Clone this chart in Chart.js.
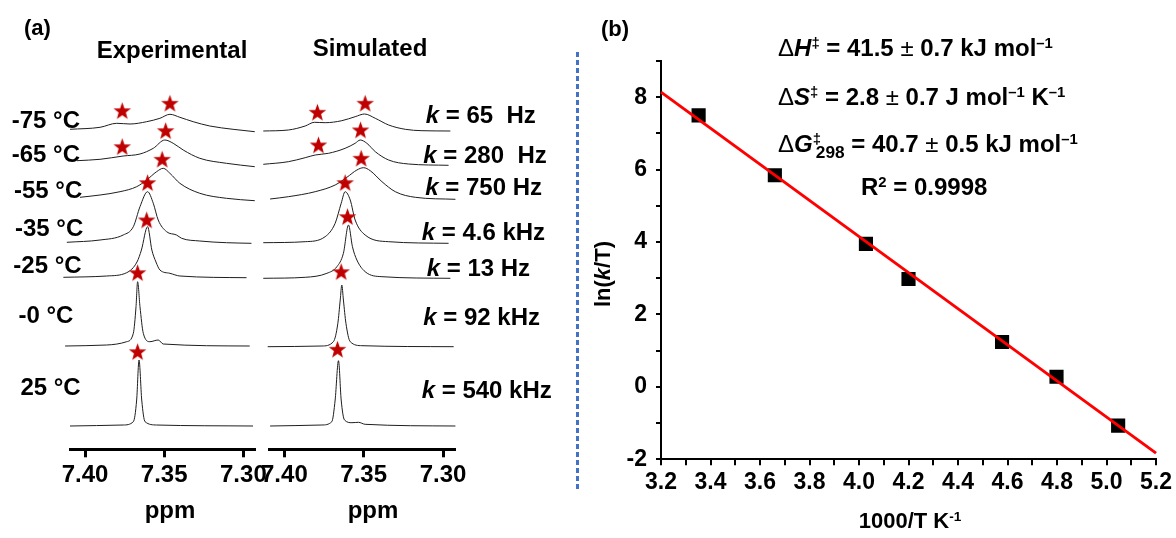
<!DOCTYPE html>
<html>
<head>
<meta charset="utf-8">
<script src="https://cdn.jsdelivr.net/npm/chart.js@4.4.0/dist/chart.umd.min.js"></script>
<style>
  body { margin: 0; background: #fff; width: 1176px; height: 538px; overflow: hidden; position: relative;
         font-family: Arial, "Liberation Sans", sans-serif; font-weight: bold; color: #000; }
  canvas { position: absolute; }
  .t { position: absolute; white-space: pre; font-size: 24px; line-height: 1; transform: translateY(-50%); }
  .c { transform: translate(-50%, -50%); }
  .s { font-size: 22px; }
  .n { font-weight: normal; }
  .sup { font-size: 0.62em; vertical-align: 0.55em; line-height: 0; }
  .sub { font-size: 0.72em; vertical-align: -0.35em; line-height: 0; }
  #sep { position: absolute; left: 576px; top: 52px; width: 2.5px; height: 438px;
         background: repeating-linear-gradient(to bottom, #4472c4 0 5px, transparent 5px 8px); }
</style>
</head>
<body>
<canvas id="expChart" style="left:0;top:0" width="290" height="538"></canvas>
<canvas id="simChart" style="left:240px;top:0" width="250" height="538"></canvas>
<canvas id="eyring" style="left:600px;top:0" width="576" height="538"></canvas>
<div id="sep"></div>
<div id="labels"></div>

<script>
// ---- panel (a): spectra, ppm positions and intensity above each trace's baseline ----
const ppmTicks = [7.40, 7.35, 7.30];
const temps = ['-75 °C', '-65 °C', '-55 °C', '-35 °C', '-25 °C', '-0 °C', '25 °C'];
const rates = ['65  Hz', '280  Hz', '750 Hz', '4.6 kHz', '13 Hz', '92 kHz', '540 kHz'];

const expPpm1 = [7.4095, 7.3905, 7.3800, 7.3716, 7.3611, 7.3527, 7.3464, 7.3401, 7.3317, 7.3212, 7.3065, 7.2928];
const expInt1 = [2.4, 4.4, 8.4, 7.7, 10.0, 13.4, 17.4, 14.4, 10.0, 5.7, 2.4, 0];
const expPpm2 = [7.4052, 7.3905, 7.3759, 7.3653, 7.3569, 7.3496, 7.3443, 7.3380, 7.3275, 7.3107, 7.2928];
const expInt2 = [6.0, 7.4, 10.7, 12.7, 18.4, 26.7, 23.4, 16.7, 8.4, 3.4, 0];
const expPpm3 = [7.4032, 7.3905, 7.3779, 7.3674, 7.3611, 7.3548, 7.3506, 7.3464, 7.3401, 7.3275, 7.3107, 7.2928];
const expInt3 = [3.4, 5.7, 9.0, 14.0, 20.7, 29.0, 32.4, 27.4, 17.4, 7.4, 2.4, 0];
const expPpm4 = [7.4115, 7.3905, 7.3759, 7.3695, 7.3653, 7.3605, 7.3569, 7.3538, 7.3485, 7.3422, 7.3390, 7.3275, 7.3107, 7.2949];
const expInt4 = [1.0, 3.3, 8.3, 16.6, 36.6, 51.6, 40.0, 23.3, 11.6, 8.3, 5.0, 2.3, 0.6, 0];
const expPpm5 = [7.4137, 7.3863, 7.3737, 7.3672, 7.3644, 7.3605, 7.3578, 7.3552, 7.3527, 7.3464, 7.3401, 7.2980];
const expInt5 = [0.4, 1.7, 5.0, 15.7, 27.7, 51.0, 27.7, 15.7, 7.7, 4.4, 1.7, 0];
const expPpm6 = [7.4126, 7.3863, 7.3737, 7.3695, 7.3678, 7.3668, 7.3653, 7.3632, 7.3590, 7.3538, 7.3506, 7.2960];
const expInt6 = [0, 1.0, 4.3, 12.7, 39.3, 64.3, 39.3, 12.7, 4.3, 6.0, 2.0, 0];
const expPpm7 = [7.4095, 7.3759, 7.3695, 7.3674, 7.3659, 7.3642, 7.3621, 7.3548, 7.2939];
const expInt7 = [0, 1.0, 4.3, 26, 66, 26, 4.3, 1.0, 0];

const simPpm1 = [7.4133, 7.3975, 7.3869, 7.3811, 7.3743, 7.3638, 7.3554, 7.3495, 7.3427, 7.3343, 7.3238, 7.3133, 7.2954];
const simInt1 = [0, 1, 5, 8.7, 8.3, 10.3, 14.3, 17, 12.7, 6, 1.7, 0.3, 0];
const simPpm2 = [7.4133, 7.3975, 7.3869, 7.3806, 7.3722, 7.3617, 7.3554, 7.3522, 7.3480, 7.3427, 7.3343, 7.3217, 7.2965];
const simInt2 = [1.0, 3.6, 7.6, 10.3, 12.0, 17.0, 22.0, 25.3, 22.0, 13.6, 5.3, 1.3, 0];
const simPpm3 = [7.4090, 7.3975, 7.3806, 7.3680, 7.3606, 7.3543, 7.3501, 7.3459, 7.3385, 7.3301, 7.3175, 7.2922];
const simInt3 = [0.3, 2.6, 7.6, 14.3, 22.0, 29.3, 31.6, 28.6, 17.6, 7.6, 2.0, 0];
const simPpm4 = [7.4133, 7.3869, 7.3743, 7.3680, 7.3642, 7.3617, 7.3585, 7.3554, 7.3491, 7.3343, 7.2965];
const simInt4 = [0.6, 1.6, 6.6, 20.0, 40.0, 51.6, 43.3, 23.3, 8.3, 1.6, 0];
const simPpm5 = [7.4133, 7.3869, 7.3732, 7.3669, 7.3628, 7.3596, 7.3571, 7.3543, 7.3491, 7.3385, 7.2954];
const simInt5 = [0, 1.0, 5.0, 11.6, 25.0, 53.3, 31.6, 18.3, 6.6, 1.6, 0];
const simPpm6 = [7.4105, 7.3764, 7.3691, 7.3663, 7.3648, 7.3638, 7.3628, 7.3612, 7.3585, 7.3511, 7.2933];
const simInt6 = [0, 0.7, 5.0, 23.4, 46.7, 61.7, 46.7, 23.4, 5.0, 1.0, 0];
const simPpm7 = [7.4090, 7.3764, 7.3701, 7.3680, 7.3659, 7.3642, 7.3621, 7.3574, 7.3533, 7.3491, 7.2922];
const simInt7 = [0, 1.0, 4.3, 26, 65.3, 26, 6, 3.3, 3.7, 1.7, 0];

// peak markers (ppm, height above trace baseline, which trace)
const expStarPpm = [7.3765, 7.3464, 7.3765, 7.3491, 7.3513, 7.3605, 7.3611, 7.3668, 7.3668];
const expStarH   = [21.0, 28.4, 20.0, 36.0, 41.4, 60.6, 57.7, 73.3, 74.3];
const expStarOf  = [0, 0, 1, 1, 2, 3, 4, 5, 6];
const simStarPpm = [7.3792, 7.3491, 7.3785, 7.3520, 7.3516, 7.3617, 7.3602, 7.3642, 7.3665];
const simStarH   = [18.7, 27.7, 20.3, 35.3, 41.0, 60.6, 61.6, 75.0, 76.7];
const simStarOf  = [0, 0, 1, 1, 2, 3, 4, 5, 6];

// ---- panel (b): Eyring plot ----
const invT = [3.352, 3.66, 4.028, 4.20, 4.578, 4.798, 5.047];
const lnKT = [7.50, 5.845, 3.95, 2.98, 1.24, 0.28, -1.07];
const fitX = [3.2, 5.2];
const fitY = [8.14, -1.83];
const xTicksB = [3.2, 3.3, 3.4, 3.5, 3.6, 3.7, 3.8, 3.9, 4.0, 4.1, 4.2, 4.3, 4.4, 4.5, 4.6, 4.7, 4.8, 4.9, 5.0, 5.1, 5.2];
const yTicksB = [-2, -1, 0, 1, 2, 3, 4, 5, 6, 7, 8, 9];

// layout: vertical stacking of the traces (page px of each baseline)
const expBase = [131.7, 166.7, 200.7, 243.3, 277.7, 346, 426];
const simBase = [131, 165.3, 199.3, 243.3, 278.3, 346.7, 426];
const tempPos = [[11.7, 120], [11.7, 154], [14, 190], [15, 228.3], [13.3, 265], [18.5, 315], [20.4, 386.7]];
const ratePos = [[425.7, 115], [423.3, 155], [425.3, 186.7], [421.7, 231.7], [426.7, 268.3], [423.3, 316.7], [421.7, 390]];

const FONT = 'Arial, "Liberation Sans", sans-serif';

// filled five-point star used as point style
function makeStar() {
  const c = document.createElement('canvas');
  c.width = 19; c.height = 19;
  const g = c.getContext('2d');
  g.fillStyle = '#c00000';
  g.beginPath();
  for (let i = 0; i < 10; i++) {
    const r = i % 2 ? 3.8 : 9.2;
    const a = -Math.PI / 2 + i * Math.PI / 5;
    g.lineTo(9.5 + r * Math.cos(a), 10.2 + r * Math.sin(a));
  }
  g.closePath();
  g.fill();
  return c;
}
const starImg = makeStar();

function spectraChart(id, ppms, ints, bases, sPpm, sH, sOf, padL, padR) {
  const datasets = [{
    data: sPpm.map((x, j) => ({ x: x, y: bases[sOf[j]] - sH[j] })),
    pointStyle: starImg, pointRadius: 9, showLine: false, clip: false
  }];
  ppms.forEach((p, i) => {
    datasets.push({
      data: p.map((x, j) => ({ x: x, y: bases[i] - ints[i][j] })),
      showLine: true, borderColor: '#1e1e1e', borderWidth: 1, pointRadius: 0,
      cubicInterpolationMode: 'monotone', clip: false
    });
  });
  new Chart(document.getElementById(id), {
    type: 'scatter',
    data: { datasets: datasets },
    options: {
      responsive: false, animation: false,
      layout: { padding: { left: padL, right: padR, top: 60, bottom: 0 } },
      plugins: { legend: { display: false }, tooltip: { enabled: false } },
      scales: {
        x: {
          type: 'linear', reverse: true, min: 7.2931, max: 7.4095,
          afterBuildTicks: s => { s.ticks = ppmTicks.map(v => ({ value: v })); },
          afterFit: s => { s.height = 538 - 449.3; },
          border: { display: true, color: '#000', width: 3 },
          grid: { drawOnChartArea: false, drawTicks: true, tickLength: 8, color: '#000', lineWidth: 3 },
          ticks: { color: '#000', padding: 4, maxRotation: 0, autoSkip: false,
                   font: { family: FONT, size: 24, weight: 'bold' },
                   callback: v => v.toFixed(2) }
        },
        y: { display: false, reverse: true, min: 60, max: 449.3 }
      }
    }
  });
}

spectraChart('expChart',
  [expPpm1, expPpm2, expPpm3, expPpm4, expPpm5, expPpm6, expPpm7],
  [expInt1, expInt2, expInt3, expInt4, expInt5, expInt6, expInt7],
  expBase, expStarPpm, expStarH, expStarOf, 70, 290 - 254.3);
spectraChart('simChart',
  [simPpm1, simPpm2, simPpm3, simPpm4, simPpm5, simPpm6, simPpm7],
  [simInt1, simInt2, simInt3, simInt4, simInt5, simInt6, simInt7],
  simBase, simStarPpm, simStarH, simStarOf, 269.3 - 240, 490 - 454);

// Eyring plot
new Chart(document.getElementById('eyring'), {
  type: 'scatter',
  data: {
    datasets: [{
      data: fitX.map((x, i) => ({ x: x, y: fitY[i] })),
      showLine: true, borderColor: '#ff0000', borderWidth: 3, pointRadius: 0, clip: false
    }, {
      data: invT.map((x, i) => ({ x: x, y: lnKT[i] })),
      pointStyle: 'rect', pointRadius: 10, backgroundColor: '#000', borderColor: '#000', borderWidth: 0
    }]
  },
  options: {
    responsive: false, animation: false,
    layout: { padding: { left: 0, right: 1176 - 1157, top: 61, bottom: 0 } },
    plugins: { legend: { display: false }, tooltip: { enabled: false } },
    scales: {
      x: {
        type: 'linear', min: 3.2, max: 5.2,
        afterBuildTicks: s => { s.ticks = xTicksB.map(v => ({ value: v })); },
        afterFit: s => { s.height = 538 - 459.3; },
        border: { display: true, color: '#000', width: 2 },
        grid: { drawOnChartArea: false, tickLength: 6, color: '#000', lineWidth: 2 },
        ticks: { color: '#000', padding: 4, maxRotation: 0, autoSkip: false,
                 font: { family: FONT, size: 23, weight: 'bold' },
                 callback: v => (Math.round(v * 10) % 2 === 0 ? v.toFixed(1) : '') }
      },
      y: {
        type: 'linear', min: -2, max: 9,
        afterBuildTicks: s => { s.ticks = yTicksB.map(v => ({ value: v })); },
        afterFit: s => { s.width = 661 - 600; },
        border: { display: true, color: '#000', width: 2 },
        grid: { drawOnChartArea: false, tickLength: 5, color: '#000', lineWidth: 2 },
        ticks: { color: '#000', padding: 9, autoSkip: false,
                 font: { family: FONT, size: 23, weight: 'bold' },
                 callback: v => (v % 2 === 0 ? String(v) : '') }
      }
    }
  }
});

// text labels
const box = document.getElementById('labels');
function addText(html, x, y, cls) {
  const d = document.createElement('div');
  d.className = 't' + (cls ? ' ' + cls : '');
  d.style.left = x + 'px';
  d.style.top = y + 'px';
  d.innerHTML = html;
  box.appendChild(d);
  return d;
}
temps.forEach((t, i) => addText(t, tempPos[i][0], tempPos[i][1]));
rates.forEach((r, i) => addText('<i>k</i> = ' + r, ratePos[i][0], ratePos[i][1]));
addText('(a)', 24, 28, 's');
addText('(b)', 601, 29, 's');
addText('Experimental', 172, 50, 'c');
addText('Simulated', 370, 48, 'c');
addText('ppm', 170, 510, 'c');
addText('ppm', 373, 510, 'c');
addText('<span class="n">Δ</span><i>H</i><span class="sup">‡</span> = 41.5 <span class="n">±</span> 0.7 kJ mol<span class="sup">–1</span>', 778, 48);
addText('<span class="n">Δ</span><i>S</i><span class="sup">‡</span> = 2.8 <span class="n">±</span> 0.7 J mol<span class="sup">–1</span> K<span class="sup">–1</span>', 778, 97);
addText('<span class="n">Δ</span><i>G</i><span class="sup">‡</span><span class="sub" style="margin-left:-0.3em">298</span> = 40.7 <span class="n">±</span> 0.5 kJ mol<span class="sup">–1</span>', 778, 144);
addText('R<span class="sup">2</span> = 0.9998', 861, 187);
addText('1000/T K<span class="sup">-1</span>', 910, 521, 'c s');
const yTitle = addText('ln(<i>k</i>/T)', 603, 274, 'c s');
yTitle.style.transform = 'translate(-50%, -50%) rotate(-90deg)';
</script>
</body>
</html>
